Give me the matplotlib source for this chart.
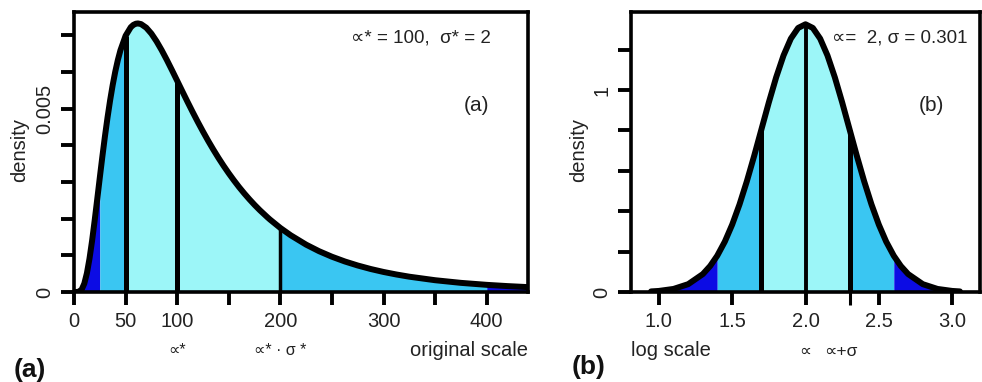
import numpy as np
import matplotlib
matplotlib.use('Agg')
from matplotlib import pyplot as plt

plt.rcParams['font.family'] = ['Liberation Sans', 'DejaVu Sans']

LIGHT = '#9cf6f8'
MID = '#3ac6f2'
DARK = '#0c0ce4'

# (a) original scale: density
orig_x = [0, 2.5, 5, 7.5, 10, 12.5, 15, 17.5, 20, 22.5, 25, 27.5, 30, 32.5, 35,
          37.5, 40, 42.5, 45, 50, 55, 57.5, 60, 62, 65, 70, 75, 80, 85, 90, 95,
          100, 105, 110, 115, 120, 125, 130, 135, 140, 145, 150, 155, 160, 165,
          170, 175, 180, 187.5, 190, 200, 210, 225, 237.5, 250, 262.5, 275, 287.5,
          300, 312.5, 325, 350, 375, 400, 420, 440]
orig_dens = [0.0, 0.0000002, 0.0000101, 0.0000712, 0.000231, 0.000512, 0.000907,
             0.001392, 0.001942, 0.002525, 0.003116, 0.003694, 0.004245, 0.004756,
             0.005223, 0.005640, 0.006006, 0.006321, 0.006587, 0.006982, 0.007214,
             0.007278, 0.007311, 0.007318, 0.007300, 0.007203, 0.007041, 0.006831,
             0.006588, 0.006322, 0.006042, 0.005756, 0.005468, 0.005183, 0.004904,
             0.004633, 0.004372, 0.004121, 0.003882, 0.003654, 0.003438, 0.003234,
             0.003041, 0.002858, 0.002687, 0.002526, 0.002374, 0.002232, 0.002035,
             0.001973, 0.001745, 0.001546, 0.001290, 0.001112, 0.000961, 0.000832,
             0.000722, 0.000627, 0.000546, 0.000477, 0.000417, 0.000321, 0.000249,
             0.000195, 0.000161, 0.000133]
orig_bounds = [0, 25, 50, 200, 400, 440]
orig_lines = [50, 100, 200]
orig_ticks = [0, 50, 100, 150, 200, 250, 300, 350, 400]
orig_ticklabels = ['0', '50', '100', '', '200', '', '300', '', '400']

# (b) log scale
log_x = [0.947, 1.0, 1.1, 1.2, 1.3, 1.35, 1.398, 1.45, 1.5, 1.55, 1.6, 1.65, 1.699,
         1.75, 1.8, 1.85, 1.9, 1.95, 2.0, 2.05, 2.1, 2.15, 2.2, 2.25, 2.301, 2.35,
         2.4, 2.45, 2.5, 2.55, 2.602, 2.65, 2.7, 2.8, 2.9, 3.0, 3.053]
log_dens = [0.0029, 0.0053, 0.0152, 0.0388, 0.0887, 0.1288, 0.1794, 0.2496, 0.3336,
            0.4335, 0.5481, 0.6741, 0.8039, 0.9388, 1.0629, 1.1706, 1.2542, 1.3072,
            1.3254, 1.3072, 1.2542, 1.1706, 1.0629, 0.9388, 0.8039, 0.6741, 0.5481,
            0.4335, 0.3336, 0.2496, 0.1794, 0.1288, 0.0887, 0.0388, 0.0152, 0.0053,
            0.0029]
log_bounds = [0.947, 1.398, 1.699, 2.301, 2.602, 3.053]
log_lines = [1.699, 2.0, 2.301]
log_ticks = [1.0, 1.5, 2.0, 2.5, 3.0]
log_ticklabels = ['1.0', '1.5', '2.0', '2.5', '3.0']

band_colors = [DARK, MID, LIGHT, MID, DARK]

W, H = 982, 382
fig = plt.figure(figsize=(W / 100, H / 100), dpi=100)


def px_box(left, top, right, bottom):
    return [left / W, 1 - bottom / H, (right - left) / W, (bottom - top) / H]


def draw_density(ax, x, y, bounds, lines, line_widths):
    x = np.asarray(x, dtype=float)
    y = np.asarray(y, dtype=float)
    for lo, hi, c in zip(bounds[:-1], bounds[1:], band_colors):
        m = (x >= lo) & (x <= hi)
        ax.fill_between(x[m], 0, y[m], color=c, lw=0, zorder=1)
    for v, lw in zip(lines, line_widths):
        ax.vlines(v, 0, y[x == v][0], color='black', lw=lw, zorder=2)
    ax.plot(x, y, color='black', lw=4.3, zorder=3, solid_capstyle='round',
            solid_joinstyle='round')


def style_axes(ax):
    for s in ax.spines.values():
        s.set_linewidth(2.6)
        s.set_zorder(5)
    ax.tick_params(direction='out', length=9.5, width=2.8, labelsize=14.5,
                   colors='black', labelcolor='#222222')
    ax.tick_params(axis='x', pad=5)
    ax.tick_params(axis='y', pad=4.5, labelrotation=90)
    for lab in ax.get_yticklabels():
        lab.set_verticalalignment('center')


# left panel
ax1 = fig.add_axes(px_box(74, 11.7, 528, 292))
draw_density(ax1, orig_x, orig_dens, orig_bounds, orig_lines, [3.6, 3.6, 2.5])
ax1.set_xlim(0, 440)
ax1.set_ylim(0, 0.007638)
ax1.set_xticks(orig_ticks)
ax1.set_xticklabels(orig_ticklabels)
ax1.set_yticks(np.arange(0, 0.0075, 0.001))
ax1.set_yticklabels(['0', '', '', '', '', '0.005', '', ''])
style_axes(ax1)
ax1.text(0.765, 0.905, '∝* = 100,  σ* = 2', transform=ax1.transAxes,
         ha='center', va='center', fontsize=13.5, color='#222222')
ax1.text(0.887, 0.665, '(a)', transform=ax1.transAxes,
         ha='center', va='center', fontsize=15, color='#222222')
ax1.text(100, -0.207, '∝*', transform=ax1.get_xaxis_transform(),
         ha='center', va='center', fontsize=11.5, color='#222222')
ax1.text(200, -0.207, '∝* · σ *', transform=ax1.get_xaxis_transform(),
         ha='center', va='center', fontsize=11.5, color='#222222')
ax1.text(1.0, -0.207, 'original scale', transform=ax1.transAxes,
         ha='right', va='center', fontsize=14.5, color='#222222')

# right panel
ax2 = fig.add_axes(px_box(631, 11.7, 980, 292))
draw_density(ax2, log_x, log_dens, log_bounds, log_lines, [3.6, 2.8, 3.6])
ax2.set_xlim(0.81, 3.19)
ax2.set_ylim(0, 1.3876)
ax2.set_xticks(log_ticks)
ax2.set_xticklabels(log_ticklabels)
ax2.set_xticks([2.301], minor=True)
ax2.set_yticks(np.arange(0, 1.3, 0.2))
ax2.set_yticklabels(['0', '', '', '', '', '1', ''])
style_axes(ax2)
ax2.tick_params(axis='x', which='minor', direction='out', length=9.5, width=2.2)
ax2.text(0.77, 0.905, '∝=  2, σ = 0.301', transform=ax2.transAxes,
         ha='center', va='center', fontsize=13.5, color='#222222')
ax2.text(0.86, 0.665, '(b)', transform=ax2.transAxes,
         ha='center', va='center', fontsize=15, color='#222222')
ax2.text(2.0, -0.212, '∝', transform=ax2.get_xaxis_transform(),
         ha='center', va='center', fontsize=12, color='#222222')
ax2.text(2.24, -0.212, '∝+σ', transform=ax2.get_xaxis_transform(),
         ha='center', va='center', fontsize=12.5, color='#222222')
ax2.text(0.0, -0.207, 'log scale', transform=ax2.transAxes,
         ha='left', va='center', fontsize=14.5, color='#222222')

# y labels and panel tags
fig.text(20 / W, 1 - 150 / H, 'density', rotation=90, ha='center', va='center',
         fontsize=14.5, color='#222222')
fig.text(579 / W, 1 - 150 / H, 'density', rotation=90, ha='center', va='center',
         fontsize=14.5, color='#222222')
fig.text(14 / W, 1 - 370 / H, '(a)', ha='left', va='center', fontsize=19,
         fontweight='bold', color='#111111')
fig.text(572 / W, 1 - 367 / H, '(b)', ha='left', va='center', fontsize=19,
         fontweight='bold', color='#111111')

fig.savefig('out.png', dpi=100)
